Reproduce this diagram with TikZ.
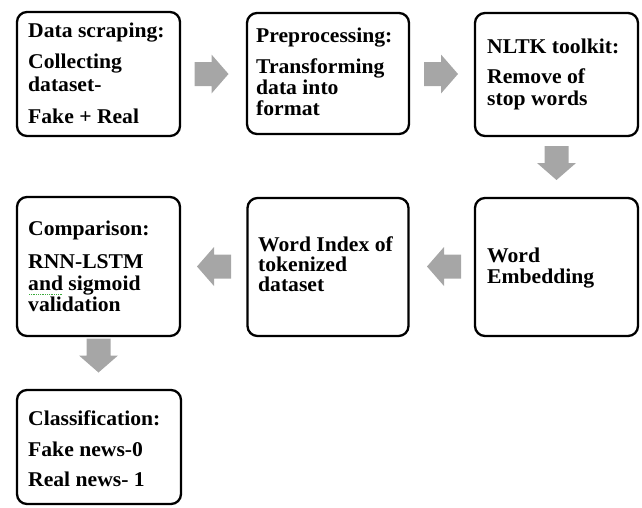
\documentclass[tikz,border=0pt]{standalone}
\usepackage{fontspec}
\setmainfont{Liberation Serif}[FakeStretch=1.03]
\usetikzlibrary{calc}
\definecolor{arrowgray}{RGB}{166,166,166}
\definecolor{spellgreen}{RGB}{60,170,60}
\begin{document}
\begin{tikzpicture}[x=1pt,y=-1pt,
  box/.style={draw=black, line width=2.3pt, rounded corners=10pt, inner sep=0pt, fill=white},
  txt/.style={anchor=base west, inner sep=0pt, font=\fontsize{21}{24}\selectfont\bfseries},
  blockarrow/.pic={\fill[arrowgray] (-17,-12) -- (0,-12) -- (0,-19.5) -- (17,0) -- (0,19.5) -- (0,12) -- (-17,12) -- cycle;}
]
\useasboundingbox (0,0) rectangle (642,507);
% boxes
\node[box, minimum width=163pt, minimum height=124pt] (b1) at (98.5,74) {};
\node[box, minimum width=162pt, minimum height=121pt] (b2) at (328,73.5) {};
\node[box, minimum width=163pt, minimum height=123pt] (b3) at (556.5,74.5) {};
\node[box, minimum width=163pt, minimum height=139pt] (b4) at (98.5,266.5) {};
\node[box, minimum width=161pt, minimum height=138pt] (b5) at (328,267) {};
\node[box, minimum width=163pt, minimum height=138pt] (b6) at (556.5,267) {};
\node[box, minimum width=164pt, minimum height=114pt] (b7) at (99,447) {};
% texts
\node[txt] (t1a) at (28,37.5) {Data scraping:};
\node[txt] (t1b) at (28,68.5) {Collecting};
\node[txt] (t1c) at (28,91) {dataset-};
\node[txt] (t1d) at (28,123) {Fake + Real};
\node[txt] (t2a) at (256,42) {Preprocessing:};
\node[txt] (t2b) at (256,73) {Transforming};
\node[txt] (t2c) at (256,94) {data into};
\node[txt] (t2d) at (256,115) {format};
\node[txt] (t3a) at (487,53) {NLTK toolkit:};
\node[txt] (t3b) at (487,83) {Remove of};
\node[txt] (t3c) at (487,105) {stop words};
\node[txt] (t4a) at (28,235) {Comparison:};
\node[txt] (t4b) at (28,268) {RNN-LSTM};
\node[txt] (t4c) at (28,290) {and sigmoid};
\node[txt] (t4d) at (28,311) {validation};
\node[txt] (t5a) at (258,251) {Word Index of};
\node[txt] (t5b) at (258,271) {tokenized};
\node[txt] (t5c) at (258,291) {dataset};
\node[txt] (t6a) at (487,262.5) {Word};
\node[txt] (t6b) at (487,283) {Embedding};
\node[txt] (t7a) at (28,425) {Classification:};
\node[txt] (t7b) at (28,456) {Fake news-0};
\node[txt] (t7c) at (28,486) {Real news- 1};
% spell-check underline under "and"
\draw[spellgreen, line width=0.8pt, densely dotted] (29,294.5) -- (63,294.5);
% block arrows
\coordinate (a12) at (211.5,74);
\coordinate (a23) at (441,74);
\coordinate (a36) at (556.5,163);
\coordinate (a65) at (444,266.5);
\coordinate (a54) at (214,266.5);
\coordinate (a47) at (98.5,355.5);
\pic at (a12) {blockarrow};
\pic at (a23) {blockarrow};
\pic[rotate=-90] at (a36) {blockarrow};
\pic[rotate=180] at (a65) {blockarrow};
\pic[rotate=180] at (a54) {blockarrow};
\pic[rotate=-90] at (a47) {blockarrow};
\end{tikzpicture}
\end{document}
